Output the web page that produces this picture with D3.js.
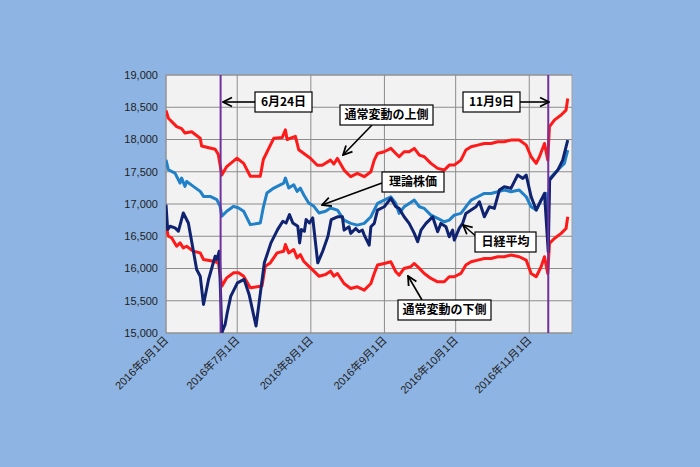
<!DOCTYPE html>
<html lang="ja">
<head>
<meta charset="UTF-8" />
<script src="https://d3js.org/d3.v7.min.js"></script>
<style>
  body { margin: 0; background: #8eb4e3; }
  svg { font-family: Arial, "Liberation Sans", "Noto Sans CJK JP", sans-serif; }
</style>
</head>
<body>
<svg id="chart" width="700" height="467"></svg>
<script>
// day offsets from 2016-06-01 and values
const upperDays = [0,1,4.5,6.6,8,10.8,14.4,15,20.7,22,23.5,25.6,29.9,32.7,35.5,39.7,41,45.4,48.9,50.3,51,54.5,55.9,60.8,63.7,65.8,69.3,70.7,
  72.2,75,77.8,80.6,83.5,86.3,87.7,89.1,91.9,94.7,96.8,98.2,100.3,102.4,104.6,106.7,108.8,111.6,114.4,117.2,119.3,121.4,124.2,126.3,128.5,131.3,134.1,136.9,139.7,142.5,145.3,148.8,151.7,153.8,155.9,157.3,159.4,160.8,161.5,163.6,166.4,168.5,169.2];
const upperVals = [18450,18330,18200,18170,18100,18120,18020,17900,17850,17770,17450,17580,17710,17630,17430,17430,17690,18020,18030,18150,18000,18050,17840,17710,17600,17600,17680,17620,
  17707,17526,17423,17474,17423,17500,17681,17784,17810,17862,17784,17733,17810,17810,17862,17758,17733,17630,17552,17526,17603,17603,17681,17836,17888,17913,17939,17939,17965,17965,17991,17991,17913,17733,17630,17733,17939,17681,18198,18301,18379,18456,18637];

const theoDays = [0,1,3.8,5.9,6.6,8,8.7,11.5,14.4,15.8,18.6,21.4,22.8,23.5,25.6,28.5,30.6,32.7,35.5,39.7,41.1,42.5,45.4,49.6,50.3,51.7,53.8,55.2,56.6,58,60.1,62.3,64.4,67.2,69.3,
  72.2,75,77.8,80.6,83.5,86.3,89.1,91.9,94.7,96.8,98.2,100.3,102.4,104.6,106.7,108.8,111.6,114.4,117.2,119.3,121.4,124.2,126.3,128.5,131.3,134.1,136.9,139.7,142.5,145.3,148.8,151.7,153.8,155.9,158,160.1,161,161.6,165,167.8,169.2];
const theoVals = [17685,17531,17479,17325,17402,17273,17350,17273,17196,17118,17118,17067,16964,16809,16887,16964,16938,16887,16680,16706,16964,17170,17247,17325,17402,17247,17299,17196,17247,17144,17015,16964,16861,16887,16938,
  16906,16750,16699,16673,16699,16802,17009,17060,17112,17009,16854,16957,17009,17060,16957,16931,16828,16776,16725,16750,16828,16854,16957,17060,17112,17164,17164,17190,17216,17190,17216,17112,16957,16906,17060,17164,16880,17396,17526,17630,17836];

const nikkeiDays = [0,0.7,1.7,3.8,5.2,7.3,9.4,10.8,12.9,14.4,15.8,17.9,20.7,21.4,22.4,23.5,24.9,25.8,27.3,30.1,32.9,35,37.9,41.4,44.2,47,49.2,50.6,52,53.4,55.5,56.3,57,58.3,59,60.4,61.8,63.9,66,68.2,69.6,
  72.2,74.3,75,77.1,77.8,79.9,81.3,82.7,83.5,85.6,86.3,87.7,89.1,91.9,94.7,96.8,98.2,100.3,102.4,104.6,106,107.4,109.5,110.9,112.3,114.4,115.8,117.9,119.3,120.7,121.4,123.5,124.9,126.3,128.5,130.6,132,134.1,136.2,138.3,140.4,142.5,145.3,148.1,150.3,151.7,153.8,155.9,158,159.4,161,161.6,165,167.1,169.2];
const nikkeiVals = [16990,16603,16655,16629,16577,16861,16706,16423,15985,15881,15443,15830,16191,16139,16268,15005,15134,15314,15572,15778,15830,15598,15108,16088,16397,16603,16732,16706,16835,16706,16655,16397,16603,16577,16758,16706,16784,16088,16268,16500,16758,
  16802,16802,16595,16647,16544,16621,16570,16595,16518,16363,16647,16699,16906,16957,17087,16957,16931,16802,16699,16544,16414,16595,16699,16750,16802,16570,16699,16647,16492,16595,16440,16621,16699,16854,16906,16957,17035,16802,16957,16931,17216,17268,17242,17448,17397,17448,17112,16906,17060,17164,16259,17371,17526,17681,17991];

const lowerDays = [0,1,2.4,4.5,5.9,7.3,8.7,11.5,14.4,15.8,20,22.1,23.5,25.6,28.5,30.6,32.7,35.5,40.4,41.8,43.9,46.8,49.6,50.3,51.7,53.8,55.2,56.6,58,60.1,62.3,64.4,67.2,69.3,70.7,
  72.2,75,77.8,80.6,83.5,86.3,87.7,89.1,91.9,94.7,96.8,98.2,100.3,103.1,104.6,106.7,108.8,111.6,114.4,117.2,119.3,121.4,124.2,126.3,128.5,131.3,134.1,136.9,139.7,142.5,145.3,148.8,151.7,153.8,155.9,158,159.4,160.8,161.5,163.6,166.4,168.5,169.2];
const lowerVals = [16654,16500,16474,16345,16397,16319,16345,16268,16242,16139,16113,16087,15727,15855,15933,15933,15881,15701,15727,16036,16087,16242,16268,16371,16242,16294,16165,16216,16113,16036,15959,15881,15907,15959,15881,
  15923,15768,15691,15716,15665,15768,15923,16053,16078,16104,15949,15897,16001,16027,16078,16001,15923,15846,15794,15794,15872,15872,15923,16053,16104,16130,16156,16156,16182,16182,16208,16182,16130,15923,15872,16027,16182,15923,16389,16466,16544,16621,16802];

const yTicks = [15000,15500,16000,16500,17000,17500,18000,18500,19000];
const xTickLabels = ["2016年6月1日","2016年7月1日","2016年8月1日","2016年9月1日","2016年10月1日","2016年11月1日"];
const eventDays = ["2016-06-24","2016-11-09"];

const start = new Date(2016, 5, 1);
const toDate = d => d3.timeHour.offset(start, Math.round(d * 24));

const svg = d3.select("#chart");
const plotL = 166, plotR = 572, plotT = 75, plotB = 333;

const x = d3.scaleTime().domain([start, new Date(2016, 10, 19)]).range([plotL, plotR]);
const y = d3.scaleLinear().domain([15000, 19000]).range([plotB, plotT]);

svg.append("rect").attr("x", plotL).attr("y", plotT).attr("width", plotR - plotL).attr("height", plotB - plotT)
  .attr("fill", "#f2f2f2").attr("stroke", "#a0a0a0");

const monthTicks = xTickLabels.map((_, i) => new Date(2016, 5 + i, 1));

// grid
svg.append("g").selectAll("line").data(yTicks).join("line")
  .attr("x1", plotL).attr("x2", plotR).attr("y1", d => y(d)).attr("y2", d => y(d))
  .attr("stroke", "#8c8c8c").attr("stroke-width", 1);
svg.append("g").selectAll("line").data(monthTicks).join("line")
  .attr("x1", d => x(d)).attr("x2", d => x(d)).attr("y1", plotT).attr("y2", plotB)
  .attr("stroke", "#8c8c8c").attr("stroke-width", 1);

// y axis labels
svg.append("g").selectAll("text").data(yTicks).join("text")
  .attr("x", plotL - 8).attr("y", d => y(d)).attr("dy", "0.35em")
  .attr("text-anchor", "end").attr("font-size", 11).attr("fill", "#222")
  .text(d => d3.format(",")(d));

// x axis labels rotated
svg.append("g").selectAll("text").data(monthTicks).join("text")
  .attr("transform", d => `translate(${x(d) + 3},${plotB + 8}) rotate(-45)`)
  .attr("text-anchor", "end").attr("font-size", 11).attr("fill", "#222")
  .text((d, i) => xTickLabels[i]);

const line = d3.line().x(d => x(d[0])).y(d => y(d[1]));
svg.append("clipPath").attr("id", "plot").append("rect")
  .attr("x", plotL).attr("y", plotT).attr("width", plotR - plotL).attr("height", plotB - plotT);

function drawSeries(days, vals, color) {
  const pts = days.map((d, i) => [toDate(d), vals[i]]);
  svg.append("path").datum(pts).attr("d", line)
    .attr("fill", "none").attr("stroke", color).attr("stroke-width", 3)
    .attr("stroke-linejoin", "round").attr("clip-path", "url(#plot)");
}
drawSeries(upperDays, upperVals, "#ff1a1a");
drawSeries(lowerDays, lowerVals, "#ff1a1a");
drawSeries(theoDays, theoVals, "#2080c8");
drawSeries(nikkeiDays, nikkeiVals, "#0f2370");

// event lines
svg.append("g").selectAll("line").data(eventDays).join("line")
  .attr("x1", d => x(new Date(d + "T00:00"))).attr("x2", d => x(new Date(d + "T00:00")))
  .attr("y1", plotT).attr("y2", plotB).attr("stroke", "#7030a0").attr("stroke-width", 2);

// annotations
svg.append("defs").append("marker").attr("id", "arrow")
  .attr("viewBox", "0 0 10 10").attr("refX", 9).attr("refY", 5)
  .attr("markerWidth", 7).attr("markerHeight", 7).attr("orient", "auto-start-reverse")
  .append("path").attr("d", "M1,1 L9,5 L1,9").attr("fill", "none").attr("stroke", "#000").attr("stroke-width", 1.6);

const notes = [
  { text: "6月24日", bx: 255, by: 92, w: 57, ax1: 255, ay1: 102, ax2: 223, ay2: 102 },
  { text: "11月9日", bx: 463, by: 92, w: 57, ax1: 520, ay1: 102, ax2: 549, ay2: 102 },
  { text: "通常変動の上側", bx: 340, by: 105, w: 93, ax1: 372, ay1: 125, ax2: 343, ay2: 155 },
  { text: "理論株価", bx: 382, by: 172, w: 62, ax1: 382, ay1: 183, ax2: 322, ay2: 205 },
  { text: "日経平均", bx: 475, by: 232, w: 61, ax1: 478, ay1: 238, ax2: 463, ay2: 225 },
  { text: "通常変動の下側", bx: 398, by: 300, w: 93, ax1: 422, ay1: 300, ax2: 408, ay2: 276 }
];
const ng = svg.append("g");
notes.forEach(n => {
  ng.append("line").attr("x1", n.ax1).attr("y1", n.ay1).attr("x2", n.ax2).attr("y2", n.ay2)
    .attr("stroke", "#000").attr("stroke-width", 1.6).attr("marker-end", "url(#arrow)");
  ng.append("rect").attr("x", n.bx).attr("y", n.by).attr("width", n.w).attr("height", 20)
    .attr("fill", "#fff").attr("stroke", "#000").attr("stroke-width", 1.2);
  ng.append("text").attr("x", n.bx + n.w / 2).attr("y", n.by + 10).attr("dy", "0.36em")
    .attr("text-anchor", "middle").attr("font-size", 12).attr("font-weight", "bold")
    .attr("font-family", "'Noto Sans CJK JP', sans-serif").text(n.text);
});
</script>
</body>
</html>
